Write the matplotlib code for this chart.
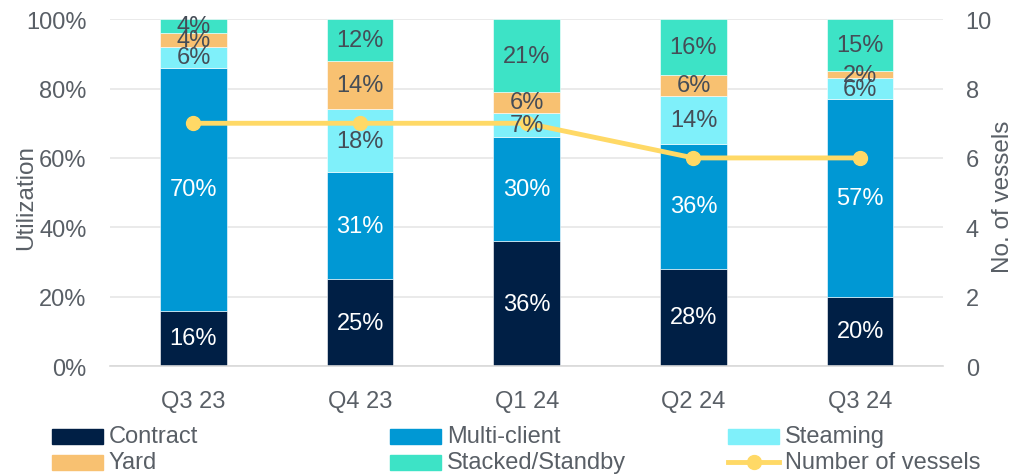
import numpy as np
import matplotlib
matplotlib.use("Agg")
import matplotlib.pyplot as plt
from matplotlib.patches import Rectangle
from matplotlib.lines import Line2D

plt.rcParams['font.family'] = ['Liberation Sans', 'DejaVu Sans']

# data
quarters = ["Q3 23", "Q4 23", "Q1 24", "Q2 24", "Q3 24"]
contract = [16, 25, 36, 28, 20]
multi_client = [70, 31, 30, 36, 57]
steaming = [6, 18, 7, 14, 6]
yard = [4, 14, 6, 6, 2]
stacked = [4, 12, 21, 16, 15]
vessels = [7, 7, 7, 6, 6]

dark_txt = "#454D57"
series = [
    ("Contract", contract, "#001F45", "white"),
    ("Multi-client", multi_client, "#0098D4", "white"),
    ("Steaming", steaming, "#7FF0FA", dark_txt),
    ("Yard", yard, "#F8C171", dark_txt),
    ("Stacked/Standby", stacked, "#3DE3C6", dark_txt),
]
grey = "#595F66"
yellow = "#FFD966"

fig = plt.figure(figsize=(10.2, 4.77), dpi=100)
ax = fig.add_axes([0.108, 0.2306, 0.817, 0.727])
ax2 = ax.twinx()

x = np.arange(len(quarters))
bottom = np.zeros(len(quarters))
for name, vals, col, tcol in series:
    vals = np.array(vals)
    ax.bar(x, vals, 0.4, bottom=bottom, color=col, edgecolor="white", lw=0.4, zorder=2)
    # labels go on ax2 so they sit above the vessel line
    for xi, b, v in zip(x, bottom, vals):
        ax2.text(xi, b + v / 2, f"{v}%", ha="center", va="center", transform=ax.transData,
                 color=tcol, fontsize=17, zorder=6)
    bottom += vals

ax.set_ylim(0, 100)
ax.set_xlim(-0.5, 4.5)
ax.set_yticks(range(0, 101, 20))
ax.set_yticklabels([f"{t}%" for t in range(0, 101, 20)])
ax.set_xticks(x)
ax.set_xticklabels(quarters)
ax.set_ylabel("Utilization", fontsize=17.5, color=grey)
ax.yaxis.set_label_coords(-0.088, 0.49)
ax.grid(axis="y", color="#E6E6E6", lw=1.2, zorder=0)
for s in ["top", "right", "left"]:
    ax.spines[s].set_visible(False)
ax.spines["bottom"].set_color("#D9D9D9")
ax.spines["bottom"].set_linewidth(1.2)
ax.tick_params(axis="y", length=0, labelsize=17, colors=grey, pad=17)
ax.tick_params(axis="x", length=0, labelsize=17, colors=grey, pad=17)

ax2.plot(x, vessels, color=yellow, lw=3.5, marker="o", ms=10, zorder=5)
ax2.set_ylim(0, 10)
ax2.set_yticks(range(0, 11, 2))
ax2.set_ylabel("No. of vessels", fontsize=17.5, color=grey)
ax2.yaxis.set_label_coords(1.058, 0.49)
for s in ["top", "right", "left", "bottom"]:
    ax2.spines[s].set_visible(False)
ax2.tick_params(axis="y", length=0, labelsize=17, colors=grey, pad=16)

# legend laid out by hand: three fixed columns, two rows
W, H = 1020.0, 477.0
cols_x = [52, 390, 728]
rows_y = [437, 463]
entries = [
    ("Contract", series[0][2]), ("Multi-client", series[1][2]), ("Steaming", series[2][2]),
    ("Yard", series[3][2]), ("Stacked/Standby", series[4][2]), ("Number of vessels", None),
]
for i, (lab, col) in enumerate(entries):
    cx = cols_x[i % 3]
    cy = rows_y[i // 3]
    if col is not None:
        fig.add_artist(Rectangle((cx / W, 1 - (cy + 7.5) / H), 51 / W, 15 / H,
                                 transform=fig.transFigure, color=col))
    else:
        fig.add_artist(Line2D([cx / W, (cx + 51) / W], [1 - cy / H, 1 - cy / H],
                              transform=fig.transFigure, color=yellow, lw=3.5))
        fig.add_artist(Line2D([(cx + 25.5) / W], [1 - cy / H], transform=fig.transFigure,
                              color=yellow, marker="o", ms=10))
    fig.text((cx + 57) / W, 1 - cy / H, lab, ha="left", va="center", fontsize=17, color=grey)

fig.savefig("out.png", dpi=100)
